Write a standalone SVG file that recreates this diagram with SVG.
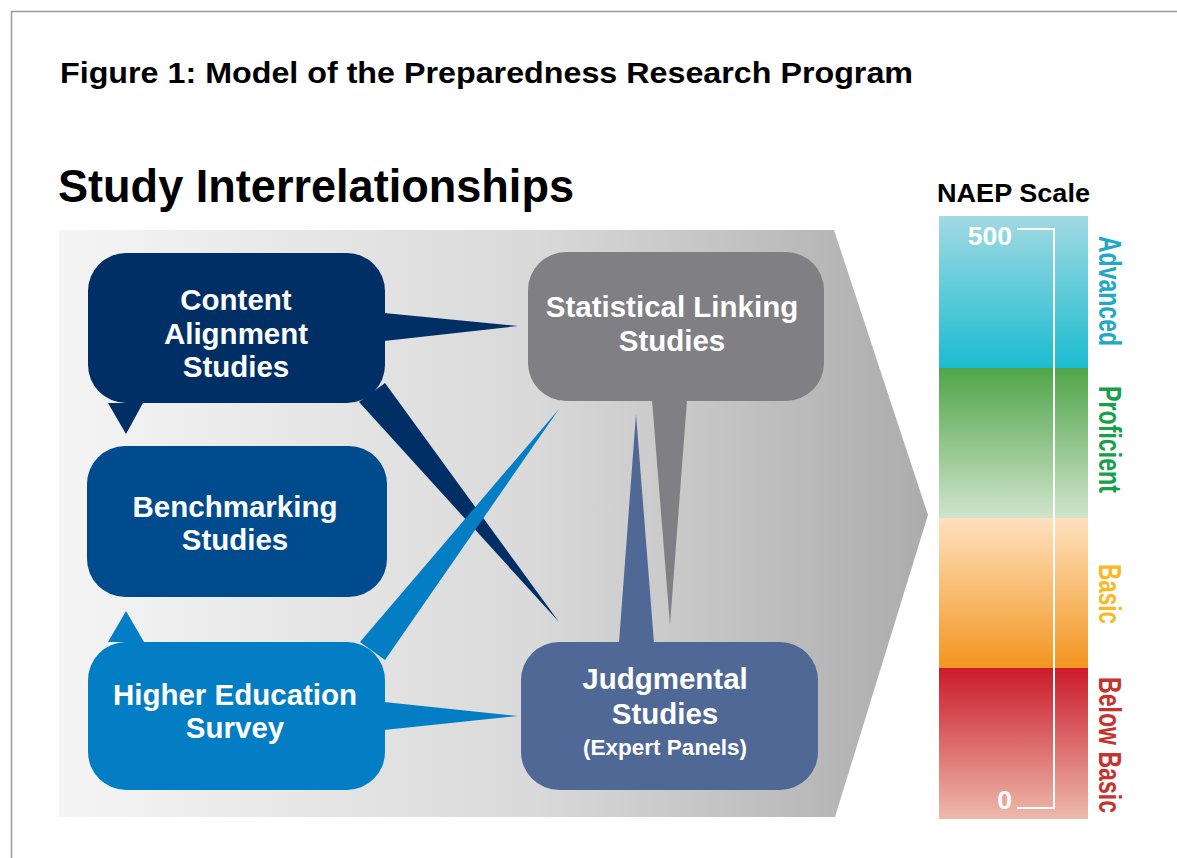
<svg xmlns="http://www.w3.org/2000/svg" width="1177" height="858" viewBox="0 0 1177 858">
<defs>
<linearGradient id="bg" x1="59" y1="0" x2="928" y2="0" gradientUnits="userSpaceOnUse">
<stop offset="0" stop-color="#f5f5f5"/><stop offset="0.55" stop-color="#d9d9d9"/><stop offset="1" stop-color="#acacac"/>
</linearGradient>
<linearGradient id="gAdv" x1="0" y1="0" x2="0" y2="1"><stop offset="0" stop-color="#a2d9e3"/><stop offset="1" stop-color="#1bbcd0"/></linearGradient>
<linearGradient id="gPro" x1="0" y1="0" x2="0" y2="1"><stop offset="0" stop-color="#50a549"/><stop offset="1" stop-color="#d0e4cc"/></linearGradient>
<linearGradient id="gBas" x1="0" y1="0" x2="0" y2="1"><stop offset="0" stop-color="#fee1bf"/><stop offset="1" stop-color="#f39520"/></linearGradient>
<linearGradient id="gBel" x1="0" y1="0" x2="0" y2="1"><stop offset="0" stop-color="#cb1a2a"/><stop offset="1" stop-color="#edbaab"/></linearGradient>
<style>
.t{font-family:"Liberation Sans",Arial,Helvetica,sans-serif;font-weight:bold}
.lbl{fill:#ffffff;font-size:29.5px;text-anchor:middle}
.sub{fill:#ffffff;font-size:22.5px;text-anchor:middle}
.lvl{font-size:31px}
.num{fill:#ffffff;font-size:26.5px;text-anchor:end}
</style>
</defs>
<rect x="0" y="0" width="1177" height="858" fill="#ffffff"/>
<path d="M11.5 858 V11.5 H1177" fill="none" stroke="#9a9a9a" stroke-width="1.5"/>
<text class="t" x="60" y="83" font-size="29.5" fill="#000" textLength="853" lengthAdjust="spacingAndGlyphs">Figure 1: Model of the Preparedness Research Program</text>
<text class="t" x="58" y="202" font-size="45.5" fill="#000" textLength="516" lengthAdjust="spacingAndGlyphs">Study Interrelationships</text>

<polygon points="59,230 834,230 928,515 835,817 59,817" fill="url(#bg)"/>

<g id="connectors">
<polygon id="ca-to-bm" points="108,403 143,403 126,434" fill="#002f65"/>
<polygon id="ca-to-sl" points="384,313 384,341 518,326" fill="#002f65"/>
<polygon id="ca-to-js" points="359,402 385,383 559,622" fill="#002f65"/>
<polygon id="he-to-bm" points="108,642 144,642 126,611" fill="#037dc3"/>
<polygon id="he-to-sl" points="360,642 385,660 559,409" fill="#037dc3"/>
<polygon id="he-to-js" points="384,702 384,730 518,716" fill="#037dc3"/>
<polygon id="sl-to-js" points="652,400 687,400 670,625" fill="#807f84"/>
<polygon id="js-to-sl" points="619,643 654,643 636,414" fill="#506895"/>
</g>

<g id="content-alignment">
<rect x="88" y="253" width="297" height="150" rx="38" fill="#002f65"/>
<text class="t lbl" x="236" y="310">Content</text>
<text class="t lbl" x="236" y="344">Alignment</text>
<text class="t lbl" x="236" y="377">Studies</text>
</g>
<g id="benchmarking">
<rect x="87" y="446" width="300" height="151" rx="38" fill="#004a8e"/>
<text class="t lbl" x="235" y="517">Benchmarking</text>
<text class="t lbl" x="235" y="550">Studies</text>
</g>
<g id="higher-education">
<rect x="88" y="642" width="297" height="148" rx="38" fill="#037dc3"/>
<text class="t lbl" x="235" y="705">Higher Education</text>
<text class="t lbl" x="235" y="738">Survey</text>
</g>
<g id="statistical-linking">
<rect x="528" y="252" width="296" height="149" rx="38" fill="#807f84"/>
<text class="t lbl" x="672" y="317">Statistical Linking</text>
<text class="t lbl" x="672" y="351">Studies</text>
</g>
<g id="judgmental">
<rect x="521" y="642" width="297" height="148" rx="38" fill="#506895"/>
<text class="t lbl" x="665" y="689">Judgmental</text>
<text class="t lbl" x="665" y="724">Studies</text>
<text class="t sub" x="665" y="755">(Expert Panels)</text>
</g>

<g id="naep-scale">
<text class="t" x="937" y="202" font-size="26.5" fill="#000" textLength="153" lengthAdjust="spacingAndGlyphs">NAEP Scale</text>
<rect x="939" y="216" width="149" height="152" fill="url(#gAdv)"/>
<rect x="939" y="368" width="149" height="150" fill="url(#gPro)"/>
<rect x="939" y="518" width="149" height="150" fill="url(#gBas)"/>
<rect x="939" y="668" width="149" height="151" fill="url(#gBel)"/>
<path d="M1017 229 H1054 V808 H1017" fill="none" stroke="#ffffff" stroke-width="2"/>
<text class="t num" x="1012" y="245">500</text>
<text class="t num" x="1012" y="809">0</text>
<text class="t lvl" transform="translate(1099,236) rotate(90)" fill="#22a7c7" textLength="110" lengthAdjust="spacingAndGlyphs">Advanced</text>
<text class="t lvl" transform="translate(1099,386) rotate(90)" fill="#17a04a" textLength="107" lengthAdjust="spacingAndGlyphs">Proficient</text>
<text class="t lvl" transform="translate(1099,564) rotate(90)" fill="#fbb825" textLength="60" lengthAdjust="spacingAndGlyphs">Basic</text>
<text class="t lvl" transform="translate(1099,677) rotate(90)" fill="#c4342e" textLength="136" lengthAdjust="spacingAndGlyphs">Below Basic</text>
</g>
</svg>
